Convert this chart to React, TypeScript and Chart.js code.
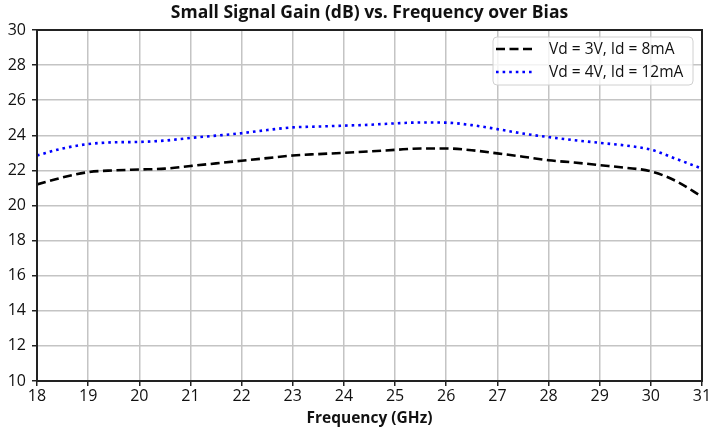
import React, { useEffect, useRef } from "react";
import { Chart, registerables } from "chart.js";

Chart.register(...registerables);

const freqs = [18, 18.5, 19, 19.5, 20, 20.5, 21, 21.5, 22, 22.5, 23, 23.5, 24, 24.5, 25, 25.5, 26, 26.5, 27, 27.5, 28, 28.5, 29, 29.5, 30, 30.5, 31];
const gainVd3 = [21.2, 21.6, 21.9, 22.0, 22.05, 22.1, 22.25, 22.4, 22.55, 22.7, 22.85, 22.93, 23.0, 23.08, 23.17, 23.25, 23.25, 23.15, 22.97, 22.78, 22.58, 22.45, 22.3, 22.15, 21.95, 21.38, 20.5];
const gainVd4 = [22.85, 23.25, 23.5, 23.6, 23.62, 23.7, 23.85, 23.98, 24.12, 24.3, 24.45, 24.5, 24.55, 24.6, 24.68, 24.73, 24.72, 24.58, 24.35, 24.1, 23.9, 23.72, 23.57, 23.42, 23.18, 22.65, 22.1];
const seriesLabels = ["Vd = 3V, Id = 8mA", "Vd = 4V, Id = 12mA"];
const titleText = "Small Signal Gain (dB) vs. Frequency over Bias";
const xAxisTitle = "Frequency (GHz)";

const FONT = "'Open Sans', sans-serif";

const boxAndLegend = {
  id: "boxAndLegend",
  afterDatasetsDraw(chart: any) {
    const { ctx, chartArea } = chart;
    const { left, right, top, bottom } = chartArea;
    ctx.save();
    ctx.strokeStyle = "#222";
    ctx.lineWidth = 2;
    ctx.strokeRect(left, top, right - left, bottom - top);

    // legend
    const bx = right - 209;
    const by = top + 7;
    const bw = 200;
    const bh = 48;
    ctx.beginPath();
    ctx.roundRect(bx, by, bw, bh, 4);
    ctx.fillStyle = "rgba(255,255,255,0.8)";
    ctx.fill();
    ctx.strokeStyle = "#d0d0d0";
    ctx.lineWidth = 1;
    ctx.stroke();

    const items = chart.data.datasets;
    items.forEach((ds: any, i: number) => {
      const y = by + 12 + i * 23;
      ctx.beginPath();
      ctx.setLineDash(ds.borderDash);
      ctx.lineWidth = ds.borderWidth;
      ctx.strokeStyle = ds.borderColor;
      ctx.moveTo(bx + 3, y);
      ctx.lineTo(bx + 42, y);
      ctx.stroke();
      ctx.setLineDash([]);
      ctx.fillStyle = "#111";
      ctx.font = `15.5px ${FONT}`;
      ctx.textBaseline = "middle";
      ctx.textAlign = "left";
      ctx.fillText(ds.label, bx + 56, y + 1);
    });
    ctx.restore();
  },
};

export default function App() {
  const ref = useRef<HTMLCanvasElement | null>(null);
  useEffect(() => {
    if (!ref.current) return;
    const chart = new Chart(ref.current, {
      type: "line",
      data: {
        datasets: [
          {
            label: seriesLabels[0],
            data: freqs.map((f, i) => ({ x: f, y: gainVd3[i] })),
            borderColor: "#000000",
            borderWidth: 2.6,
            borderDash: [9, 4.5],
            pointRadius: 0,
            cubicInterpolationMode: "monotone",
            fill: false,
          },
          {
            label: seriesLabels[1],
            data: freqs.map((f, i) => ({ x: f, y: gainVd4[i] })),
            borderColor: "#0000ff",
            borderWidth: 2.6,
            borderDash: [2.6, 4],
            pointRadius: 0,
            cubicInterpolationMode: "monotone",
            fill: false,
          },
        ],
      },
      options: {
        responsive: false,
        animation: false,
        layout: { padding: { left: 0, right: 7, top: 0, bottom: 0 } },
        plugins: {
          legend: { display: false },
          tooltip: { enabled: false },
          title: {
            display: true,
            fullSize: false,
            text: titleText,
            color: "#111",
            font: { family: FONT, size: 17.5, weight: "bold", lineHeight: 1.2 },
            padding: { top: 3, bottom: 6 },
          },
        },
        scales: {
          x: {
            type: "linear",
            min: 18,
            max: 31,
            ticks: {
              stepSize: 1,
              color: "#111",
              font: { family: FONT, size: 16 },
              padding: 1,
              maxRotation: 0,
            },
            grid: { color: "#c4c4c4", lineWidth: 1.5, tickLength: 5, tickColor: "#222", tickWidth: 1.5 },
            border: { color: "#222", width: 2 },
            title: {
              display: true,
              text: xAxisTitle,
              color: "#111",
              font: { family: FONT, size: 15.5, weight: "bold" },
              padding: { top: 0, bottom: 4 },
            },
            afterFit(scale: any) {
              scale.height = 51;
              scale.paddingRight = 0;
              scale.paddingLeft = 0;
            },
          },
          y: {
            min: 10,
            max: 30,
            ticks: {
              stepSize: 2,
              color: "#111",
              font: { family: FONT, size: 16 },
              padding: 6,
            },
            grid: { color: "#c4c4c4", lineWidth: 1.5, tickLength: 5, tickColor: "#222", tickWidth: 1.5 },
            border: { color: "#222", width: 2 },
            afterFit(scale: any) {
              scale.width = 37;
              scale.paddingTop = 0;
              scale.paddingBottom = 0;
            },
          },
        },
      } as any,
      plugins: [boxAndLegend],
    });
    return () => chart.destroy();
  }, []);
  return (
    <div style={{ position: "fixed", left: 0, top: 0, width: 709, height: 432, background: "#fff" }}>
      <canvas ref={ref} width={709} height={432} />
    </div>
  );
}
